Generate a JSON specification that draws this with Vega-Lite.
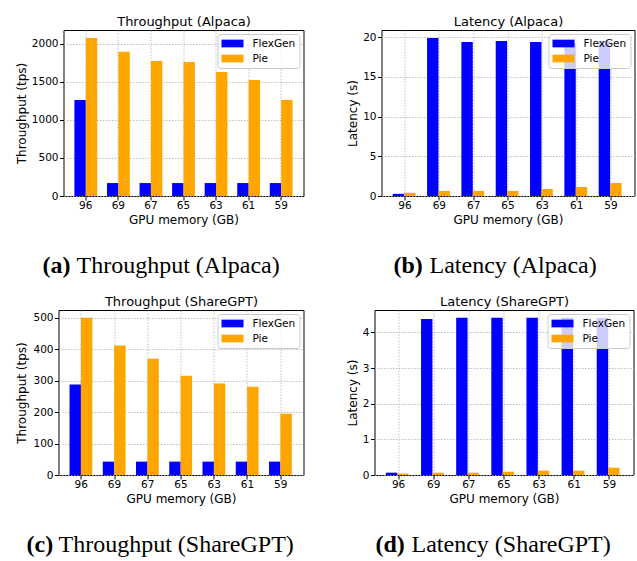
{
  "$schema": "https://vega.github.io/schema/vega-lite/v6.json",
  "padding": {"left": 7.5, "top": 14, "right": 0, "bottom": 0},
  "background": "white",
  "datasets": {
    "thrA": [
      {"mem": "96", "system": "FlexGen", "value": 1260}, {"mem": "96", "system": "Pie", "value": 2074},
      {"mem": "69", "system": "FlexGen", "value": 170}, {"mem": "69", "system": "Pie", "value": 1891},
      {"mem": "67", "system": "FlexGen", "value": 170}, {"mem": "67", "system": "Pie", "value": 1772},
      {"mem": "65", "system": "FlexGen", "value": 170}, {"mem": "65", "system": "Pie", "value": 1759},
      {"mem": "63", "system": "FlexGen", "value": 170}, {"mem": "63", "system": "Pie", "value": 1628},
      {"mem": "61", "system": "FlexGen", "value": 170}, {"mem": "61", "system": "Pie", "value": 1523},
      {"mem": "59", "system": "FlexGen", "value": 170}, {"mem": "59", "system": "Pie", "value": 1260}
    ],
    "latA": [
      {"mem": "96", "system": "FlexGen", "value": 0.27}, {"mem": "96", "system": "Pie", "value": 0.4},
      {"mem": "69", "system": "FlexGen", "value": 19.9}, {"mem": "69", "system": "Pie", "value": 0.63},
      {"mem": "67", "system": "FlexGen", "value": 19.4}, {"mem": "67", "system": "Pie", "value": 0.63},
      {"mem": "65", "system": "FlexGen", "value": 19.5}, {"mem": "65", "system": "Pie", "value": 0.63},
      {"mem": "63", "system": "FlexGen", "value": 19.4}, {"mem": "63", "system": "Pie", "value": 0.88},
      {"mem": "61", "system": "FlexGen", "value": 19.3}, {"mem": "61", "system": "Pie", "value": 1.13},
      {"mem": "59", "system": "FlexGen", "value": 19.5}, {"mem": "59", "system": "Pie", "value": 1.64}
    ],
    "thrS": [
      {"mem": "96", "system": "FlexGen", "value": 288}, {"mem": "96", "system": "Pie", "value": 500},
      {"mem": "69", "system": "FlexGen", "value": 42.5}, {"mem": "69", "system": "Pie", "value": 412},
      {"mem": "67", "system": "FlexGen", "value": 42.5}, {"mem": "67", "system": "Pie", "value": 370},
      {"mem": "65", "system": "FlexGen", "value": 42.5}, {"mem": "65", "system": "Pie", "value": 316},
      {"mem": "63", "system": "FlexGen", "value": 42.5}, {"mem": "63", "system": "Pie", "value": 291},
      {"mem": "61", "system": "FlexGen", "value": 42.5}, {"mem": "61", "system": "Pie", "value": 281},
      {"mem": "59", "system": "FlexGen", "value": 42.5}, {"mem": "59", "system": "Pie", "value": 195}
    ],
    "latS": [
      {"mem": "96", "system": "FlexGen", "value": 0.065}, {"mem": "96", "system": "Pie", "value": 0.04},
      {"mem": "69", "system": "FlexGen", "value": 4.38}, {"mem": "69", "system": "Pie", "value": 0.065},
      {"mem": "67", "system": "FlexGen", "value": 4.41}, {"mem": "67", "system": "Pie", "value": 0.065},
      {"mem": "65", "system": "FlexGen", "value": 4.41}, {"mem": "65", "system": "Pie", "value": 0.093},
      {"mem": "63", "system": "FlexGen", "value": 4.41}, {"mem": "63", "system": "Pie", "value": 0.12},
      {"mem": "61", "system": "FlexGen", "value": 4.41}, {"mem": "61", "system": "Pie", "value": 0.12},
      {"mem": "59", "system": "FlexGen", "value": 4.41}, {"mem": "59", "system": "Pie", "value": 0.205}
    ],
    "blank": [{"k": 0}]
  },
  "spacing": 16,
  "resolve": {"scale": {"color": "independent"}, "legend": {"color": "independent"}},
  "vconcat": [
    {
      "spacing": 0,
      "resolve": {"scale": {"color": "independent"}, "legend": {"color": "independent"}},
      "hconcat": [
        {"width": 1, "height": 1, "view": {"stroke": null}, "data": {"name": "blank"}, "mark": {"type": "point", "opacity": 0}},
        {
          "spacing": 41,
          "resolve": {"scale": {"color": "independent"}, "legend": {"color": "independent"}},
          "hconcat": [
            {
              "width": 240, "height": 166,
              "data": {"name": "thrA"},
              "title": {"text": "(a)", "subtitle": "\u200b\u00a0\u00a0\u00a0\u00a0\u00a0\u2006Throughput (Alpaca)", "dx": -21},
              "layer": [
                {"mark": {"type": "bar"},
                 "encoding": {
                   "x": {"field": "mem", "type": "ordinal", "sort": null, "scale": {"paddingInner": 0, "paddingOuter": 0.185}, "axis": {"title": "GPU memory (GB)", "orient": "bottom"}},
                   "xOffset": {"field": "system", "type": "nominal", "sort": ["FlexGen", "Pie"], "scale": {"paddingInner": 0, "paddingOuter": 0.4286}},
                   "y": {"field": "value", "type": "quantitative", "scale": {"domain": [0, 2178], "nice": false}, "axis": {"title": "Throughput (tps)", "values": [0, 500, 1000, 1500, 2000], "format": "d"}},
                   "color": {"field": "system", "type": "nominal", "sort": ["FlexGen", "Pie"], "scale": {"domain": ["FlexGen", "Pie"], "range": ["#0000ff", "#ffa500"]}, "legend": {"title": null}}
                 }},
                {"mark": {"type": "rule", "opacity": 0},
                 "encoding": {"x": {"field": "mem", "type": "ordinal", "sort": null, "axis": {"orient": "top", "title": "Throughput (Alpaca)", "labels": false, "ticks": false, "domain": false, "grid": false, "titleFontSize": 13, "titlePadding": 2}}}}
              ],
              "resolve": {"axis": {"x": "independent"}}
            },
            {
              "width": 253, "height": 166,
              "data": {"name": "latA"},
              "title": {"text": "(b)", "subtitle": "\u200b\u00a0\u00a0\u00a0\u00a0\u00a0\u00a0Latency (Alpaca)", "dx": 12},
              "layer": [
                {"mark": {"type": "bar"},
                 "encoding": {
                   "x": {"field": "mem", "type": "ordinal", "sort": null, "scale": {"paddingInner": 0, "paddingOuter": 0.185}, "axis": {"title": "GPU memory (GB)", "orient": "bottom"}},
                   "xOffset": {"field": "system", "type": "nominal", "sort": ["FlexGen", "Pie"], "scale": {"paddingInner": 0, "paddingOuter": 0.4286}},
                   "y": {"field": "value", "type": "quantitative", "scale": {"domain": [0, 20.9], "nice": false}, "axis": {"title": "Latency (s)", "values": [0, 5, 10, 15, 20]}},
                   "color": {"field": "system", "type": "nominal", "sort": ["FlexGen", "Pie"], "scale": {"domain": ["FlexGen", "Pie"], "range": ["#0000ff", "#ffa500"]}, "legend": {"title": null}}
                 }},
                {"mark": {"type": "rule", "opacity": 0},
                 "encoding": {"x": {"field": "mem", "type": "ordinal", "sort": null, "axis": {"orient": "top", "title": "Latency (Alpaca)", "labels": false, "ticks": false, "domain": false, "grid": false, "titleFontSize": 13, "titlePadding": 2}}}}
              ],
              "resolve": {"axis": {"x": "independent"}}
            }
          ]
        }
      ]
    },
    {
      "spacing": 0,
      "resolve": {"scale": {"color": "independent"}, "legend": {"color": "independent"}},
      "hconcat": [
        {"width": 1, "height": 1, "view": {"stroke": null}, "data": {"name": "blank"}, "mark": {"type": "point", "opacity": 0}},
        {
          "spacing": 41,
          "resolve": {"scale": {"color": "independent"}, "legend": {"color": "independent"}},
          "hconcat": [
            {
              "width": 245, "height": 165,
              "data": {"name": "thrS"},
              "title": {"text": "(c)", "subtitle": "\u200b\u00a0\u00a0\u00a0\u00a0\u00a0\u200aThroughput (ShareGPT)", "dx": -32},
              "layer": [
                {"mark": {"type": "bar"},
                 "encoding": {
                   "x": {"field": "mem", "type": "ordinal", "sort": null, "scale": {"paddingInner": 0, "paddingOuter": 0.185}, "axis": {"title": "GPU memory (GB)", "orient": "bottom"}},
                   "xOffset": {"field": "system", "type": "nominal", "sort": ["FlexGen", "Pie"], "scale": {"paddingInner": 0, "paddingOuter": 0.4286}},
                   "y": {"field": "value", "type": "quantitative", "scale": {"domain": [0, 525], "nice": false}, "axis": {"title": "Throughput (tps)", "values": [0, 100, 200, 300, 400, 500], "titlePadding": 4.7}},
                   "color": {"field": "system", "type": "nominal", "sort": ["FlexGen", "Pie"], "scale": {"domain": ["FlexGen", "Pie"], "range": ["#0000ff", "#ffa500"]}, "legend": {"title": null}}
                 }},
                {"mark": {"type": "rule", "opacity": 0},
                 "encoding": {"x": {"field": "mem", "type": "ordinal", "sort": null, "axis": {"orient": "top", "title": "Throughput (ShareGPT)", "labels": false, "ticks": false, "domain": false, "grid": false, "titleFontSize": 13, "titlePadding": 2}}}}
              ],
              "resolve": {"axis": {"x": "independent"}}
            },
            {
              "width": 259, "height": 165,
              "data": {"name": "latS"},
              "title": {"text": "(d)", "subtitle": "\u200b\u2002\u2002\u00a0\u00a0Latency (ShareGPT)", "dx": 1},
              "layer": [
                {"mark": {"type": "bar"},
                 "encoding": {
                   "x": {"field": "mem", "type": "ordinal", "sort": null, "scale": {"paddingInner": 0, "paddingOuter": 0.185}, "axis": {"title": "GPU memory (GB)", "orient": "bottom"}},
                   "xOffset": {"field": "system", "type": "nominal", "sort": ["FlexGen", "Pie"], "scale": {"paddingInner": 0, "paddingOuter": 0.4286}},
                   "y": {"field": "value", "type": "quantitative", "scale": {"domain": [0, 4.63], "nice": false}, "axis": {"title": "Latency (s)", "values": [0, 1, 2, 3, 4]}},
                   "color": {"field": "system", "type": "nominal", "sort": ["FlexGen", "Pie"], "scale": {"domain": ["FlexGen", "Pie"], "range": ["#0000ff", "#ffa500"]}, "legend": {"title": null}}
                 }},
                {"mark": {"type": "rule", "opacity": 0},
                 "encoding": {"x": {"field": "mem", "type": "ordinal", "sort": null, "axis": {"orient": "top", "title": "Latency (ShareGPT)", "labels": false, "ticks": false, "domain": false, "grid": false, "titleFontSize": 13, "titlePadding": 2}}}}
              ],
              "resolve": {"axis": {"x": "independent"}}
            }
          ]
        }
      ]
    }
  ],
  "config": {
    "font": "DejaVu Sans",
    "view": {"stroke": "#000000", "strokeWidth": 1},
    "bar": {"stroke": null},
    "axis": {
      "domain": false,
      "labelFontSize": 10.5,
      "labelColor": "#000000",
      "titleFontSize": 12,
      "titleFontWeight": "normal",
      "titleColor": "#000000",
      "tickColor": "#000000",
      "tickSize": 4,
      "labelPadding": 1.5,
      "titlePadding": 3,
      "grid": true,
      "gridColor": "#b0b0b0",
      "gridDash": [1.5, 1.5],
      "gridWidth": 0.8
    },
    "axisX": {"labelAngle": 0, "bandPosition": 0.5, "titlePadding": 4, "labelPadding": 0},
    "title": {
      "orient": "bottom", "anchor": "start", "frame": "group",
      "font": "Liberation Serif", "fontSize": 24, "fontWeight": "bold", "color": "#000000",
      "subtitleFont": "Liberation Serif", "subtitleFontSize": 24, "subtitleFontWeight": "normal", "subtitleColor": "#000000",
      "subtitlePadding": -24, "offset": 28
    },
    "legend": {
      "orient": "top-right", "offset": 4,
      "fillColor": "rgba(255,255,255,0.8)", "strokeColor": "#cccccc", "cornerRadius": 3, "padding": 4,
      "symbolType": "M-2,-0.7H2V0.7H-2Z", "symbolSize": 121, "symbolStrokeWidth": 0, "symbolOffset": 5.5,
      "labelOffset": 14.5, "labelFontSize": 10.5, "labelColor": "#000000", "rowPadding": 4
    }
  }
}
